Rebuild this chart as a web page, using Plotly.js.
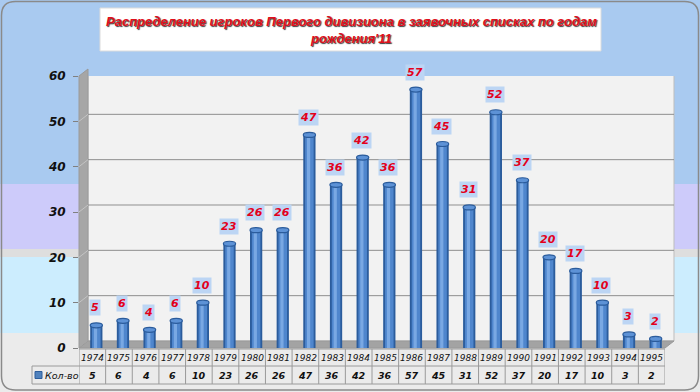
<!DOCTYPE html>
<html>
<head>
<meta charset="utf-8">
<script src="https://cdn.plot.ly/plotly-3.0.1.min.js"></script>
<style>html,body{margin:0;padding:0;background:#fff;}#chart{width:700px;height:392px;}</style>
</head>
<body>
<div id="chart"></div>
<script>
// ---- data ----
const years = ['1974','1975','1976','1977','1978','1979','1980','1981','1982','1983','1984','1985','1986','1987','1988','1989','1990','1991','1992','1993','1994','1995'];
const counts = [5,6,4,6,10,23,26,26,47,36,42,36,57,45,31,52,37,20,17,10,3,2];
const yTicks = [0,10,20,30,40,50,60];
const seriesName = 'Кол-во';
const titleText = 'Распределение игроков Первого дивизиона в заявочных списках по годам<br>рождения\'11';

// ---- geometry (pixels) ----
const W = 700, H = 392;
const L = 79, R = 665, T = 76, B = 348;
const PW = R - L, PH = B - T;
const DX = 9, DY = 7;              // 3D depth offset
const px = p => (p - L) / PW;      // pixel x -> paper
const py = p => (B - p) / PH;      // pixel y -> paper
const yMax = 60;
const dyU = DY * yMax / PH;        // depth offset in data units
const shift = 0.15;                // bar centre shift (category units)
const barW = 0.46;

const shapes = [];
// background bands
const bands = [[0,184,'#a9caf0'],[184,249,'#cdcbfa'],[249,257,'#dedede'],[257,333,'#ccedfe'],[333,392,'#ebebeb']];
bands.forEach(b => shapes.push({type:'rect', layer:'below', xref:'paper', yref:'paper',
  x0:px(0), x1:px(W), y0:py(b[0]), y1:py(b[1]), fillcolor:b[2], line:{width:0}}));
// outer rounded border
(function(){
  const r = 14, x0 = 1.5, y0 = 1.5, x1 = W - 1.5, y1 = H - 2;
  const p = `M ${px(x0+r)},${py(y0)} L ${px(x1-r)},${py(y0)} Q ${px(x1)},${py(y0)} ${px(x1)},${py(y0+r)} ` +
    `L ${px(x1)},${py(y1-r)} Q ${px(x1)},${py(y1)} ${px(x1-r)},${py(y1)} L ${px(x0+r)},${py(y1)} ` +
    `Q ${px(x0)},${py(y1)} ${px(x0)},${py(y1-r)} L ${px(x0)},${py(y0+r)} Q ${px(x0)},${py(y0)} ${px(x0+r)},${py(y0)} Z`;
  shapes.push({type:'path', layer:'below', xref:'paper', yref:'paper', path:p, line:{color:'#8a8a8a', width:1.5}});
})();
// title box
shapes.push({type:'rect', layer:'below', xref:'paper', yref:'paper', x0:px(100), x1:px(601), y0:py(8), y1:py(51),
  fillcolor:'#ffffff', line:{color:'#dcdcdc', width:1}});
// back wall
shapes.push({type:'rect', layer:'below', xref:'paper', yref:'y', x0:px(L+DX), x1:px(R+DX), y0:0+dyU, y1:yMax+dyU,
  fillcolor:'#f2f2f2', line:{color:'#bdbdbd', width:1}});
// side wall
shapes.push({type:'path', layer:'below', xref:'paper', yref:'paper',
  path:`M ${px(L)},${py(B)} L ${px(L+DX)},${py(B-DY)} L ${px(L+DX)},${py(T-DY)} L ${px(L)},${py(T)} Z`,
  fillcolor:'#a6a6a6', line:{color:'#9a9a9a', width:1}});
// gridlines on back wall + side wall
yTicks.forEach(v => {
  if (v > 0) shapes.push({type:'line', layer:'below', xref:'paper', yref:'y', x0:px(L+DX), x1:px(R+DX), y0:v+dyU, y1:v+dyU,
    line:{color:'#8f8f8f', width:1}});
  shapes.push({type:'line', layer:'below', xref:'paper', yref:'y', x0:px(L), x1:px(L+DX), y0:v, y1:v+dyU,
    line:{color:'#c4c4c4', width:1}});
});
// floor
shapes.push({type:'path', layer:'below', xref:'paper', yref:'paper',
  path:`M ${px(L)},${py(B)} L ${px(L+DX)},${py(B-DY)} L ${px(R+DX)},${py(B-DY)} L ${px(R)},${py(B)} Z`,
  fillcolor:'#a3a3a3', line:{color:'#999999', width:1}});

// cylinder top caps (ellipses anchored to each bar value)
counts.forEach((v, i) => shapes.push({type:'circle', layer:'above', xref:'x', yref:'y', ysizemode:'pixel', yanchor:v,
  x0:i + shift - barW/2, x1:i + shift + barW/2, y0:-2.5, y1:2.5,
  fillcolor:'#5d92d6', line:{color:'#2b5c9c', width:1.2}}));

// data table
const tY0 = 349, tY1 = 366, tY2 = 384, legL = 32;
const tl = {color:'#9a9a9a', width:1};
shapes.push({type:'line', xref:'paper', yref:'paper', x0:px(L), x1:px(R), y0:py(tY0), y1:py(tY0), line:tl});
shapes.push({type:'line', xref:'paper', yref:'paper', x0:px(legL), x1:px(R), y0:py(tY1), y1:py(tY1), line:tl});
shapes.push({type:'line', xref:'paper', yref:'paper', x0:px(legL), x1:px(R), y0:py(tY2), y1:py(tY2), line:tl});
shapes.push({type:'line', xref:'paper', yref:'paper', x0:px(legL), x1:px(legL), y0:py(tY1), y1:py(tY2), line:tl});
for (let i = 0; i <= years.length; i++) {
  shapes.push({type:'line', xref:'x', yref:'paper', x0:i-0.5, x1:i-0.5, y0:py(tY0), y1:py(tY2), line:tl});
}
// legend key square
shapes.push({type:'rect', xref:'paper', yref:'paper', x0:px(35), x1:px(42), y0:py(378.5), y1:py(371.5),
  fillcolor:'#4f81bd', line:{color:'#2c5d9b', width:1}});

const annotations = [];
const fam = 'DejaVu Sans, Verdana, sans-serif';
annotations.push({xref:'paper', yref:'paper', x:px(351), y:py(30), xanchor:'center', yanchor:'middle', showarrow:false,
  text:titleText, align:'center',
  font:{family:'Liberation Sans, Arial, sans-serif', size:13, color:'#e0101c', weight:'bold', style:'italic', shadow:'1px 1px 1px #3a3a3a'}});
// data labels
counts.forEach((v, i) => annotations.push({xref:'x', yref:'y', x:i, y:v, xshift:3, yshift:9, yanchor:'bottom', showarrow:false,
  text:String(v), bgcolor:'#bcd5f4', borderpad:1,
  font:{family:fam, size:11, color:'#e3001b', weight:'bold', style:'italic'}}));
// table text
years.forEach((yr, i) => annotations.push({xref:'x', yref:'paper', x:i, y:py((tY0+tY1)/2+0.5), yanchor:'middle', showarrow:false,
  text:yr, font:{family:fam, size:9, color:'#111', style:'italic'}}));
counts.forEach((v, i) => annotations.push({xref:'x', yref:'paper', x:i, y:py((tY1+tY2)/2), yanchor:'middle', showarrow:false,
  text:String(v), font:{family:fam, size:9.5, color:'#111', weight:'bold', style:'italic'}}));
annotations.push({xref:'paper', yref:'paper', x:px(43), y:py((tY1+tY2)/2), xanchor:'left', yanchor:'middle', showarrow:false,
  text:seriesName, font:{family:fam, size:9.5, color:'#111', style:'italic'}});

// cylinder-like bars from overlaid layers
const layers = [
  {w:barW, c:'#2b5c9c', off:0},
  {w:0.32, c:'#4f86cd', off:0},
  {w:0.12, c:'#79a8e3', off:-0.03}
];
const traces = layers.map(ly => ({
  type:'bar', x:years, y:counts, name:seriesName, width:ly.w, offset:shift + ly.off - ly.w/2,
  marker:{color:ly.c, line:{width:0}}, hoverinfo:'skip', showlegend:false
}));

const layout = {
  width:W, height:H, margin:{l:L, r:W-R, t:T, b:H-B, pad:0},
  paper_bgcolor:'#ffffff', plot_bgcolor:'rgba(0,0,0,0)',
  barmode:'overlay', showlegend:false,
  xaxis:{type:'category', range:[-0.5, years.length-0.5], showticklabels:false, showgrid:false, zeroline:false, showline:false, ticks:''},
  yaxis:{range:[0,yMax], tickvals:yTicks, ticks:'outside', ticklen:5, tickcolor:'#808080', showgrid:false, zeroline:false, showline:false,
    ticklabelstandoff:5, tickfont:{family:fam, size:12, color:'#111', weight:'bold', style:'italic'}},
  shapes:shapes, annotations:annotations
};
Plotly.newPlot('chart', traces, layout, {staticPlot:true, displayModeBar:false});
</script>
</body>
</html>
